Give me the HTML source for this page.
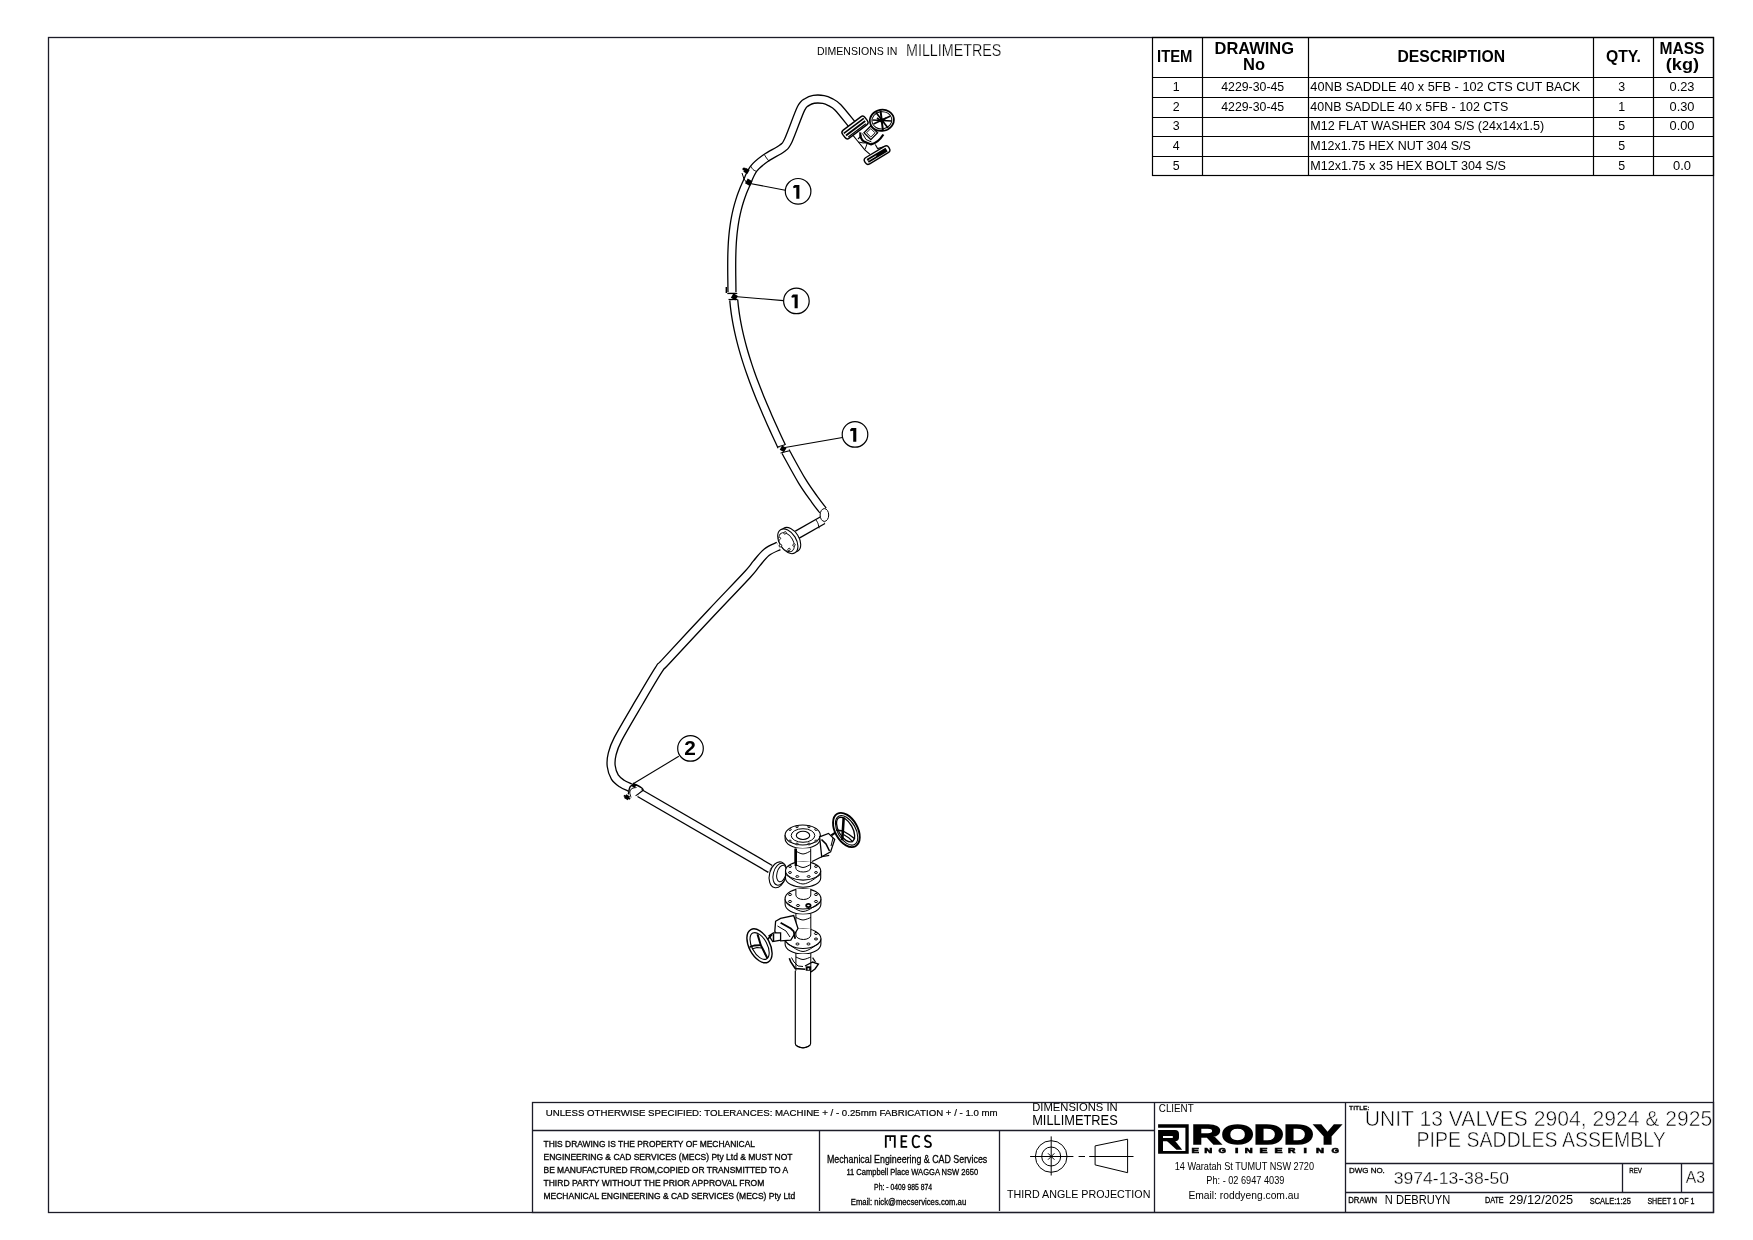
<!DOCTYPE html>
<html><head><meta charset="utf-8"><style>
html,body{margin:0;padding:0;background:#fff;width:1753px;height:1240px;overflow:hidden}
svg{display:block;will-change:transform}
text{font-family:"Liberation Sans",sans-serif;fill:#000}
.b{font-weight:bold}
</style></head><body>
<svg width="1753" height="1240" viewBox="0 0 1753 1240">
<rect x="0" y="0" width="1753" height="1240" fill="#fff"/>
<!-- outer border -->
<rect x="48.5" y="37.5" width="1665" height="1175" fill="none" stroke="#1c1c28" stroke-width="1.3"/>
<!-- top dims -->
<text x="817" y="55.2" font-size="11.6" textLength="80.3" lengthAdjust="spacingAndGlyphs">DIMENSIONS IN</text>
<text stroke="#fff" stroke-width="0.25" x="906" y="55.7" font-size="16.4" textLength="95.4" lengthAdjust="spacingAndGlyphs">MILLIMETRES</text>
<!-- BOM table -->
<g stroke="#000" stroke-width="1.2" fill="none">
<rect x="1152.5" y="37.5" width="561" height="138"/>
<line x1="1202.5" y1="37.5" x2="1202.5" y2="175.5"/>
<line x1="1308.5" y1="37.5" x2="1308.5" y2="175.5"/>
<line x1="1593.5" y1="37.5" x2="1593.5" y2="175.5"/>
<line x1="1653.5" y1="37.5" x2="1653.5" y2="175.5"/>
<line x1="1152.5" y1="77.5" x2="1713.5" y2="77.5"/>
<line x1="1152.5" y1="97.5" x2="1713.5" y2="97.5"/>
<line x1="1152.5" y1="117.5" x2="1713.5" y2="117.5"/>
<line x1="1152.5" y1="136.5" x2="1713.5" y2="136.5"/>
<line x1="1152.5" y1="156.5" x2="1713.5" y2="156.5"/>
</g>
<g class="b" font-size="16.5">
<text x="1157" y="62" textLength="35.5" lengthAdjust="spacingAndGlyphs" class="b">ITEM</text>
<text x="1214.5" y="54.2" textLength="79.5" lengthAdjust="spacingAndGlyphs" class="b">DRAWING</text>
<text x="1243" y="70.2" textLength="22" lengthAdjust="spacingAndGlyphs" class="b">No</text>
<text x="1397.5" y="62" textLength="107.5" lengthAdjust="spacingAndGlyphs" class="b">DESCRIPTION</text>
<text x="1606" y="62.2" textLength="35" lengthAdjust="spacingAndGlyphs" class="b">QTY.</text>
<text x="1659.5" y="54" textLength="45" lengthAdjust="spacingAndGlyphs" class="b">MASS</text>
<text x="1665.8" y="70" textLength="33.3" lengthAdjust="spacingAndGlyphs" class="b">(kg)</text>
</g>
<g font-size="12.4">
<text x="1176.2" y="90.8" text-anchor="middle">1</text>
<text x="1176.2" y="111.1" text-anchor="middle">2</text>
<text x="1176.2" y="130.4" text-anchor="middle">3</text>
<text x="1176.2" y="149.9" text-anchor="middle">4</text>
<text x="1176.2" y="170" text-anchor="middle">5</text>
<text x="1221.2" y="90.8" textLength="63" lengthAdjust="spacingAndGlyphs">4229-30-45</text>
<text x="1221.2" y="111.1" textLength="63" lengthAdjust="spacingAndGlyphs">4229-30-45</text>
<text x="1310.3" y="90.8" textLength="270" lengthAdjust="spacingAndGlyphs">40NB SADDLE 40 x 5FB - 102 CTS CUT BACK</text>
<text x="1310.3" y="111.1" textLength="198" lengthAdjust="spacingAndGlyphs">40NB SADDLE 40 x 5FB - 102 CTS</text>
<text x="1310.3" y="130.4" textLength="234" lengthAdjust="spacingAndGlyphs">M12 FLAT WASHER 304 S/S (24x14x1.5)</text>
<text x="1310.3" y="149.9" textLength="160.6" lengthAdjust="spacingAndGlyphs">M12x1.75 HEX NUT 304 S/S</text>
<text x="1310.3" y="170" textLength="195.6" lengthAdjust="spacingAndGlyphs">M12x1.75 x 35 HEX BOLT 304 S/S</text>
<text x="1621.6" y="90.8" text-anchor="middle">3</text>
<text x="1621.6" y="111.1" text-anchor="middle">1</text>
<text x="1621.6" y="130.4" text-anchor="middle">5</text>
<text x="1621.6" y="149.9" text-anchor="middle">5</text>
<text x="1621.6" y="170" text-anchor="middle">5</text>
<text x="1669.5" y="90.8" textLength="25" lengthAdjust="spacingAndGlyphs">0.23</text>
<text x="1669.5" y="111.1" textLength="25" lengthAdjust="spacingAndGlyphs">0.30</text>
<text x="1669.5" y="130.4" textLength="25" lengthAdjust="spacingAndGlyphs">0.00</text>
<text x="1673" y="170" textLength="18" lengthAdjust="spacingAndGlyphs">0.0</text>
</g>
<!-- TITLEBLOCK -->
<g stroke="#1c1c28" stroke-width="1.3" fill="none">
<rect x="532.5" y="1102.5" width="1181" height="110"/>
<line x1="532.5" y1="1130.5" x2="1154.5" y2="1130.5"/>
<line x1="819.5" y1="1130.5" x2="819.5" y2="1211"/>
<line x1="999.5" y1="1130.5" x2="999.5" y2="1211"/>
<line x1="1154.5" y1="1102.5" x2="1154.5" y2="1212.5"/>
<line x1="1345.5" y1="1102.5" x2="1345.5" y2="1212.5"/>
<line x1="1345.5" y1="1163.5" x2="1713.5" y2="1163.5"/>
<line x1="1345.5" y1="1192.5" x2="1713.5" y2="1192.5"/>
<line x1="1622.5" y1="1163.5" x2="1622.5" y2="1192.5"/>
<line x1="1681.5" y1="1163.5" x2="1681.5" y2="1192.5"/>
</g>
<text stroke="#000" stroke-width="0.2" x="545.7" y="1116.2" font-size="9.6" textLength="452" lengthAdjust="spacingAndGlyphs">UNLESS OTHERWISE SPECIFIED: TOLERANCES: MACHINE + / - 0.25mm  FABRICATION + / - 1.0 mm</text>
<g font-size="8.3">
<text stroke="#000" stroke-width="0.3" x="543.5" y="1147.1" textLength="211.5" lengthAdjust="spacingAndGlyphs">THIS DRAWING IS THE PROPERTY OF MECHANICAL</text>
<text stroke="#000" stroke-width="0.3" x="543.5" y="1159.9" textLength="249" lengthAdjust="spacingAndGlyphs">ENGINEERING &amp; CAD SERVICES (MECS) Pty Ltd &amp; MUST NOT</text>
<text stroke="#000" stroke-width="0.3" x="543.5" y="1172.7" textLength="244.6" lengthAdjust="spacingAndGlyphs">BE MANUFACTURED FROM,COPIED OR TRANSMITTED TO A</text>
<text stroke="#000" stroke-width="0.3" x="543.5" y="1185.6" textLength="220.8" lengthAdjust="spacingAndGlyphs">THIRD PARTY WITHOUT THE PRIOR APPROVAL FROM</text>
<text stroke="#000" stroke-width="0.3" x="543.5" y="1198.6" textLength="251.7" lengthAdjust="spacingAndGlyphs">MECHANICAL ENGINEERING &amp; CAD SERVICES (MECS) Pty Ltd</text>
</g>
<g fill="#000"><path d="M884.9 1135.3 H895.7 V1147.8 H893.9 V1137.1 H890.9 V1141 H889.5 V1137.1 H886.7 V1147.8 H884.9 Z"/>
<path d="M900.6 1135.3 H907.2 V1137.1 H902.4 V1140.6 H906.4 V1142.3 H902.4 V1146 H907.2 V1147.8 H900.6 Z"/></g>
<path d="M919.8 1137.2 Q917.5 1135.6 915.8 1135.6 Q912.6 1136.2 912.6 1141.5 Q912.6 1147 916 1147.3 Q918 1147.3 919.8 1146" fill="none" stroke="#000" stroke-width="1.8"/>
<path d="M930.8 1136.8 Q929 1135.6 927.3 1135.7 Q924.8 1136.2 925 1138.8 Q925.4 1141 928 1141.5 Q931 1142.3 931 1144.8 Q930.8 1147.2 927.8 1147.2 Q925.6 1147.2 924.6 1145.8" fill="none" stroke="#000" stroke-width="1.8"/>
<text stroke="#000" stroke-width="0.3" x="826.9" y="1162.9" font-size="10.5" textLength="160.4" lengthAdjust="spacingAndGlyphs">Mechanical Engineering &amp; CAD Services</text>
<text stroke="#000" stroke-width="0.3" x="846.4" y="1175.1" font-size="8.6" textLength="131.7" lengthAdjust="spacingAndGlyphs">11 Campbell Place WAGGA NSW 2650</text>
<text stroke="#000" stroke-width="0.3" x="874.1" y="1190" font-size="8.6" textLength="58" lengthAdjust="spacingAndGlyphs">Ph: - 0409 985 874</text>
<text stroke="#000" stroke-width="0.3" x="850.8" y="1205.2" font-size="8.6" textLength="115.4" lengthAdjust="spacingAndGlyphs">Email: nick@mecservices.com.au</text>
<text x="1032.2" y="1111.1" font-size="11.6" textLength="85.5" lengthAdjust="spacingAndGlyphs">DIMENSIONS IN</text>
<text x="1032.2" y="1124.8" font-size="14.5" textLength="85.5" lengthAdjust="spacingAndGlyphs">MILLIMETRES</text>
<!-- projection symbol -->
<g stroke="#000" stroke-width="1" fill="none">
<circle cx="1051.2" cy="1156.5" r="15.8"/>
<circle cx="1051.2" cy="1156.5" r="9.5"/>
<line x1="1030.1" y1="1156.5" x2="1073.4" y2="1156.5"/>
<line x1="1051.2" y1="1136.4" x2="1051.2" y2="1175.5"/>
<line x1="1078.6" y1="1156.5" x2="1085" y2="1156.5"/>
<line x1="1089.2" y1="1156.5" x2="1133.5" y2="1156.5"/>
<path d="M1095.1 1145.9 L1127.6 1139.2 L1127.6 1172.7 L1095.1 1164.9 Z"/>
<line x1="1048" y1="1153.3" x2="1054.4" y2="1159.7"/>
<line x1="1048" y1="1159.7" x2="1054.4" y2="1153.3"/>
</g>
<text x="1006.9" y="1198" font-size="11.2" textLength="143.5" lengthAdjust="spacingAndGlyphs">THIRD ANGLE PROJECTION</text>
<text x="1158.8" y="1111.7" font-size="10.6" textLength="34.9" lengthAdjust="spacingAndGlyphs">CLIENT</text>
<!-- RODDY logo -->
<path d="M1158.1 1124.3 H1188.7 V1127.7 H1158.1 Z M1185.4 1124.3 H1188.7 V1153.7 H1185.4 Z M1158.1 1151 H1188.7 V1153.7 H1158.1 Z M1158.1 1130.1 H1163 V1153.7 H1158.1 Z" fill="#000"/>
<path d="M1163 1130.1 H1175 Q1179 1130.1 1179 1134 V1137.5 Q1179 1141.2 1175 1141.2 H1163 Z M1163 1136 V1138.1 H1172.8 V1136 Z" fill="#000" fill-rule="evenodd"/>
<path d="M1164.2 1138.4 L1175 1140.8 L1182.2 1149.8 L1176.5 1149.8 Z" fill="#000"/>
<text x="1191.6" y="1143.8" font-size="27.6" font-weight="bold" textLength="149.8" lengthAdjust="spacingAndGlyphs" stroke="#000" stroke-width="1.4">RODDY</text>
<text x="1191.6" y="1153.4" font-size="7.4" font-weight="bold" textLength="7.5" lengthAdjust="spacingAndGlyphs" stroke="#000" stroke-width="0.6">E</text><text x="1204.2" y="1153.4" font-size="7.4" font-weight="bold" textLength="8.0" lengthAdjust="spacingAndGlyphs" stroke="#000" stroke-width="0.6">N</text><text x="1218.5" y="1153.4" font-size="7.4" font-weight="bold" textLength="7.4" lengthAdjust="spacingAndGlyphs" stroke="#000" stroke-width="0.6">G</text><text x="1235.0" y="1153.4" font-size="7.4" font-weight="bold" textLength="3.4" lengthAdjust="spacingAndGlyphs" stroke="#000" stroke-width="0.6">I</text><text x="1244.7" y="1153.4" font-size="7.4" font-weight="bold" textLength="8.0" lengthAdjust="spacingAndGlyphs" stroke="#000" stroke-width="0.6">N</text><text x="1259.5" y="1153.4" font-size="7.4" font-weight="bold" textLength="8.0" lengthAdjust="spacingAndGlyphs" stroke="#000" stroke-width="0.6">E</text><text x="1274.4" y="1153.4" font-size="7.4" font-weight="bold" textLength="8.0" lengthAdjust="spacingAndGlyphs" stroke="#000" stroke-width="0.6">E</text><text x="1288.0" y="1153.4" font-size="7.4" font-weight="bold" textLength="7.4" lengthAdjust="spacingAndGlyphs" stroke="#000" stroke-width="0.6">R</text><text x="1303.5" y="1153.4" font-size="7.4" font-weight="bold" textLength="3.4" lengthAdjust="spacingAndGlyphs" stroke="#000" stroke-width="0.6">I</text><text x="1316.0" y="1153.4" font-size="7.4" font-weight="bold" textLength="8.0" lengthAdjust="spacingAndGlyphs" stroke="#000" stroke-width="0.6">N</text><text x="1331.4" y="1153.4" font-size="7.4" font-weight="bold" textLength="7.4" lengthAdjust="spacingAndGlyphs" stroke="#000" stroke-width="0.6">G</text>
<text x="1174.7" y="1170.2" font-size="10.4" textLength="139.3" lengthAdjust="spacingAndGlyphs">14 Waratah St TUMUT NSW 2720</text>
<text x="1206.3" y="1183.9" font-size="10.4" textLength="78.1" lengthAdjust="spacingAndGlyphs">Ph: - 02 6947 4039</text>
<text x="1188.4" y="1198.7" font-size="10.4" textLength="110.8" lengthAdjust="spacingAndGlyphs">Email: roddyeng.com.au</text>
<!-- title -->
<text stroke="#000" stroke-width="0.3" x="1349" y="1110.2" font-size="5.8" textLength="20.4" lengthAdjust="spacingAndGlyphs">TITLE:</text>
<text stroke="#fff" stroke-width="0.55" x="1364.7" y="1125.8" font-size="21.2" textLength="347.5" lengthAdjust="spacingAndGlyphs">UNIT 13 VALVES 2904, 2924 &amp; 2925</text>
<text stroke="#fff" stroke-width="0.55" x="1416.6" y="1147" font-size="21.2" textLength="249.2" lengthAdjust="spacingAndGlyphs">PIPE SADDLES ASSEMBLY</text>
<text stroke="#000" stroke-width="0.3" x="1349" y="1172.9" font-size="7.6" textLength="35.8" lengthAdjust="spacingAndGlyphs">DWG NO.</text>
<text stroke="#fff" stroke-width="0.3" x="1393.7" y="1183.5" font-size="16.7" textLength="115.4" lengthAdjust="spacingAndGlyphs">3974-13-38-50</text>
<text stroke="#000" stroke-width="0.3" x="1629.3" y="1172.9" font-size="7.6" textLength="12.7" lengthAdjust="spacingAndGlyphs">REV</text>
<text stroke="#fff" stroke-width="0.3" x="1685.8" y="1183" font-size="16.7" textLength="19.3" lengthAdjust="spacingAndGlyphs">A3</text>
<text stroke="#000" stroke-width="0.3" x="1348.2" y="1203.1" font-size="8.6" textLength="29" lengthAdjust="spacingAndGlyphs">DRAWN</text>
<text x="1384.8" y="1203.5" font-size="12.6" textLength="65.4" lengthAdjust="spacingAndGlyphs">N DEBRUYN</text>
<text stroke="#000" stroke-width="0.3" x="1484.9" y="1203.1" font-size="8.6" textLength="18.8" lengthAdjust="spacingAndGlyphs">DATE</text>
<text x="1509.1" y="1203.5" font-size="12.6" textLength="64.1" lengthAdjust="spacingAndGlyphs">29/12/2025</text>
<text stroke="#000" stroke-width="0.3" x="1589.7" y="1204.3" font-size="9.3" textLength="41.2" lengthAdjust="spacingAndGlyphs">SCALE:1:25</text>
<text stroke="#000" stroke-width="0.3" x="1647.4" y="1204.3" font-size="9.3" textLength="47.1" lengthAdjust="spacingAndGlyphs">SHEET 1 OF 1</text>
<!-- PIPE -->
<path d="M852.00 124.50 C849.67 121.67 841.62 111.23 838.00 107.50 C834.38 103.77 832.72 103.43 830.30 102.10 C827.88 100.77 826.27 99.97 823.50 99.50 C820.73 99.03 816.42 98.90 813.70 99.30 C810.98 99.70 809.32 100.35 807.20 101.90 C805.08 103.45 804.13 102.22 801.00 108.60 C797.87 114.98 791.57 133.57 788.40 140.20 C785.23 146.83 785.75 145.43 782.00 148.40 C778.25 151.37 770.63 154.60 765.90 158.00 C761.17 161.40 756.93 164.38 753.60 168.80 C750.27 173.22 747.79 180.50 745.93 184.50 C744.08 188.50 743.51 190.03 742.45 192.79 C741.39 195.56 740.44 198.32 739.58 201.08 C738.71 203.85 737.95 206.61 737.25 209.38 C736.56 212.14 735.96 214.91 735.43 217.67 C734.89 220.43 734.44 223.20 734.04 225.96 C733.64 228.73 733.31 231.49 733.03 234.25 C732.75 237.02 732.54 239.78 732.35 242.55 C732.17 245.31 732.05 248.07 731.95 250.84 C731.84 253.60 731.79 256.37 731.75 259.13 C731.71 261.89 731.71 264.66 731.71 267.42 C731.71 270.19 731.74 272.95 731.77 275.72 C731.80 278.48 731.84 281.24 731.88 284.01 C731.91 286.77 731.96 290.92 731.97 292.30" stroke="#000" stroke-width="9.30" fill="none"/>
<path d="M852.00 124.50 C849.67 121.67 841.62 111.23 838.00 107.50 C834.38 103.77 832.72 103.43 830.30 102.10 C827.88 100.77 826.27 99.97 823.50 99.50 C820.73 99.03 816.42 98.90 813.70 99.30 C810.98 99.70 809.32 100.35 807.20 101.90 C805.08 103.45 804.13 102.22 801.00 108.60 C797.87 114.98 791.57 133.57 788.40 140.20 C785.23 146.83 785.75 145.43 782.00 148.40 C778.25 151.37 770.63 154.60 765.90 158.00 C761.17 161.40 756.93 164.38 753.60 168.80 C750.27 173.22 747.79 180.50 745.93 184.50 C744.08 188.50 743.51 190.03 742.45 192.79 C741.39 195.56 740.44 198.32 739.58 201.08 C738.71 203.85 737.95 206.61 737.25 209.38 C736.56 212.14 735.96 214.91 735.43 217.67 C734.89 220.43 734.44 223.20 734.04 225.96 C733.64 228.73 733.31 231.49 733.03 234.25 C732.75 237.02 732.54 239.78 732.35 242.55 C732.17 245.31 732.05 248.07 731.95 250.84 C731.84 253.60 731.79 256.37 731.75 259.13 C731.71 261.89 731.71 264.66 731.71 267.42 C731.71 270.19 731.74 272.95 731.77 275.72 C731.80 278.48 731.84 281.24 731.88 284.01 C731.91 286.77 731.96 290.92 731.97 292.30" stroke="#fff" stroke-width="6.70" fill="none"/>
<path d="M733.73 300.00 C733.88 301.36 734.25 305.43 734.59 308.14 C734.92 310.85 735.30 313.56 735.73 316.28 C736.16 318.99 736.64 321.70 737.16 324.42 C737.68 327.13 738.24 329.84 738.85 332.56 C739.45 335.27 740.10 337.98 740.79 340.69 C741.47 343.41 742.20 346.12 742.96 348.83 C743.72 351.55 744.52 354.26 745.35 356.97 C746.18 359.69 747.05 362.40 747.95 365.11 C748.84 367.82 749.77 370.54 750.73 373.25 C751.68 375.96 752.67 378.68 753.68 381.39 C754.70 384.10 755.74 386.81 756.80 389.53 C757.86 392.24 758.95 394.95 760.05 397.67 C761.16 400.38 762.29 403.09 763.44 405.81 C764.58 408.52 765.75 411.23 766.93 413.94 C768.11 416.66 769.31 419.37 770.52 422.08 C771.73 424.80 772.96 427.51 774.20 430.22 C775.43 432.94 776.68 435.65 777.94 438.36 C779.19 441.07 781.09 445.14 781.73 446.50" stroke="#000" stroke-width="9.30" fill="none"/>
<path d="M733.73 300.00 C733.88 301.36 734.25 305.43 734.59 308.14 C734.92 310.85 735.30 313.56 735.73 316.28 C736.16 318.99 736.64 321.70 737.16 324.42 C737.68 327.13 738.24 329.84 738.85 332.56 C739.45 335.27 740.10 337.98 740.79 340.69 C741.47 343.41 742.20 346.12 742.96 348.83 C743.72 351.55 744.52 354.26 745.35 356.97 C746.18 359.69 747.05 362.40 747.95 365.11 C748.84 367.82 749.77 370.54 750.73 373.25 C751.68 375.96 752.67 378.68 753.68 381.39 C754.70 384.10 755.74 386.81 756.80 389.53 C757.86 392.24 758.95 394.95 760.05 397.67 C761.16 400.38 762.29 403.09 763.44 405.81 C764.58 408.52 765.75 411.23 766.93 413.94 C768.11 416.66 769.31 419.37 770.52 422.08 C771.73 424.80 772.96 427.51 774.20 430.22 C775.43 432.94 776.68 435.65 777.94 438.36 C779.19 441.07 781.09 445.14 781.73 446.50" stroke="#fff" stroke-width="6.70" fill="none"/>
<path d="M785.50 451.50 C788.25 456.42 797.08 472.92 802.00 481.00 C806.92 489.08 811.50 495.08 815.00 500.00 C818.50 504.92 821.67 508.75 823.00 510.50" stroke="#000" stroke-width="9.30" fill="none"/>
<path d="M785.50 451.50 C788.25 456.42 797.08 472.92 802.00 481.00 C806.92 489.08 811.50 495.08 815.00 500.00 C818.50 504.92 821.67 508.75 823.00 510.50" stroke="#fff" stroke-width="6.70" fill="none"/>
<path d="M764.40 154.70 C764.75 155.25 765.73 156.92 766.50 158.00 C767.27 159.08 768.58 160.67 769.00 161.20" stroke="#000" stroke-width="1.00" fill="none"/>
<path d="M750.90 166.30 C751.25 166.83 752.10 168.65 753.00 169.50 C753.90 170.35 755.75 171.08 756.30 171.40" stroke="#000" stroke-width="1.00" fill="none"/>
<rect x="746.00" y="179.60" width="5.40" height="5.40" fill="#000" transform="rotate(30 748.70 182.30)"/>
<rect x="744.20" y="168.50" width="4.60" height="4.60" fill="#000" transform="rotate(30 746.50 170.80)"/>
<circle cx="744" cy="169" r="1.6" fill="#000"/>
<path d="M742.00 173.00 L744.00 179.00 L747.00 183.00 L751.00 185.00" stroke="#000" stroke-width="1.00" fill="none"/>
<line x1="727.30" y1="293.50" x2="737.30" y2="293.50" stroke="#000" stroke-width="1.20"/>
<line x1="728.50" y1="299.50" x2="737.50" y2="299.50" stroke="#000" stroke-width="1.20"/>
<rect x="731.80" y="294.30" width="5.20" height="5.20" fill="#000" transform="rotate(30 734.40 296.90)"/>
<path d="M726.30 287.00 L726.30 293.00" stroke="#000" stroke-width="1.40" fill="none"/>
<rect x="780.60" y="446.30" width="5.00" height="5.00" fill="#000" transform="rotate(30 783.10 448.80)"/>
<line x1="777.50" y1="447.00" x2="785.50" y2="444.50" stroke="#000" stroke-width="1.00"/>
<line x1="780.50" y1="453.00" x2="789.50" y2="450.80" stroke="#000" stroke-width="1.00"/>
<path d="M823.00 520.00 L797.30 534.60" stroke="#000" stroke-width="9.30" fill="none"/>
<path d="M823.00 520.00 L797.30 534.60" stroke="#fff" stroke-width="6.70" fill="none"/>
<ellipse cx="824.40" cy="515.00" rx="4.30" ry="6.40" transform="rotate(0.0 824.40 515.00)" stroke="#000" stroke-width="1.00" fill="#fff"/>
<path d="M815.80 519.50 C816.17 520.17 817.45 522.03 818.00 523.50 C818.55 524.97 818.92 527.50 819.10 528.30" stroke="#000" stroke-width="1.00" fill="none"/>
<ellipse cx="790.80" cy="539.60" rx="13.40" ry="8.20" transform="rotate(58.0 790.80 539.60)" stroke="#000" stroke-width="1.10" fill="#fff"/>
<ellipse cx="787.80" cy="541.30" rx="13.60" ry="8.40" transform="rotate(58.0 787.80 541.30)" stroke="#000" stroke-width="1.10" fill="#fff"/>
<ellipse cx="786.50" cy="542.20" rx="10.50" ry="6.60" transform="rotate(58.0 786.50 542.20)" stroke="#000" stroke-width="0.90" fill="#fff"/>
<ellipse cx="779.40" cy="538.60" rx="1.10" ry="1.40" transform="rotate(40.0 779.40 538.60)" stroke="#000" stroke-width="0.80" fill="#fff"/>
<ellipse cx="785.00" cy="532.90" rx="1.10" ry="1.40" transform="rotate(40.0 785.00 532.90)" stroke="#000" stroke-width="0.80" fill="#fff"/>
<ellipse cx="794.00" cy="545.00" rx="1.10" ry="1.40" transform="rotate(40.0 794.00 545.00)" stroke="#000" stroke-width="0.80" fill="#fff"/>
<ellipse cx="789.00" cy="549.50" rx="1.10" ry="1.40" transform="rotate(40.0 789.00 549.50)" stroke="#000" stroke-width="0.80" fill="#fff"/>
<ellipse cx="780.50" cy="545.60" rx="1.10" ry="1.40" transform="rotate(40.0 780.50 545.60)" stroke="#000" stroke-width="0.80" fill="#fff"/>
<path d="M778.60 546.00 C776.58 547.05 770.18 549.38 766.50 552.30 C762.82 555.22 759.67 559.80 756.50 563.50 C753.33 567.20 755.00 566.33 747.50 574.50 C740.00 582.67 725.08 598.03 711.50 612.50 C697.92 626.97 674.83 651.72 666.00 661.30 C657.17 670.88 662.97 663.18 658.50 670.00 C654.03 676.82 645.95 690.70 639.20 702.20 C632.45 713.70 622.52 730.30 618.00 739.00 C613.48 747.70 613.23 749.90 612.10 754.40 C610.97 758.90 610.75 762.23 611.20 766.00 C611.65 769.77 613.03 774.08 614.80 777.00 C616.57 779.92 619.27 781.75 621.80 783.50 C624.33 785.25 628.63 786.83 630.00 787.50" stroke="#000" stroke-width="9.30" fill="none"/>
<path d="M778.60 546.00 C776.58 547.05 770.18 549.38 766.50 552.30 C762.82 555.22 759.67 559.80 756.50 563.50 C753.33 567.20 755.00 566.33 747.50 574.50 C740.00 582.67 725.08 598.03 711.50 612.50 C697.92 626.97 674.83 651.72 666.00 661.30 C657.17 670.88 662.97 663.18 658.50 670.00 C654.03 676.82 645.95 690.70 639.20 702.20 C632.45 713.70 622.52 730.30 618.00 739.00 C613.48 747.70 613.23 749.90 612.10 754.40 C610.97 758.90 610.75 762.23 611.20 766.00 C611.65 769.77 613.03 774.08 614.80 777.00 C616.57 779.92 619.27 781.75 621.80 783.50 C624.33 785.25 628.63 786.83 630.00 787.50" stroke="#fff" stroke-width="6.70" fill="none"/>
<path d="M639.50 793.00 L770.30 868.90" stroke="#000" stroke-width="9.30" fill="none"/>
<path d="M639.50 793.00 L770.30 868.90" stroke="#fff" stroke-width="6.70" fill="none"/>
<line x1="643.30" y1="790.30" x2="635.60" y2="795.90" stroke="#000" stroke-width="1.10"/>
<path d="M628.30 794.40 C628.62 793.12 629.02 788.32 630.20 786.70 C631.38 785.08 633.47 784.48 635.40 784.70 C637.33 784.92 640.48 787.03 641.80 788.00 C643.12 788.97 643.05 790.08 643.30 790.50" stroke="#000" stroke-width="1.40" fill="none"/>
<path d="M631.00 797.50 C630.80 796.58 629.63 793.50 629.80 792.00 C629.97 790.50 630.88 789.25 632.00 788.50 C633.12 787.75 635.75 787.67 636.50 787.50" stroke="#000" stroke-width="1.00" fill="none"/>
<rect x="632.00" y="783.30" width="4.00" height="4.00" fill="#000" transform="rotate(30 634.00 785.30)"/>
<rect x="624.80" y="795.10" width="4.40" height="4.40" fill="#000" transform="rotate(30 627.00 797.30)"/>
<path d="M623.80 795.50 L630.20 799.00" stroke="#000" stroke-width="1.50" fill="none"/>
<ellipse cx="777.80" cy="874.80" rx="8.30" ry="13.20" transform="rotate(15.0 777.80 874.80)" stroke="#000" stroke-width="1.10" fill="#fff"/>
<ellipse cx="779.80" cy="874.20" rx="6.50" ry="11.20" transform="rotate(15.0 779.80 874.20)" stroke="#000" stroke-width="1.00" fill="#fff"/>
<ellipse cx="781.50" cy="873.50" rx="4.50" ry="8.50" transform="rotate(15.0 781.50 873.50)" stroke="#000" stroke-width="1.00" fill="#fff"/>
<path d="M785.1 835 L785.1 838.5 A17.6 10 0 0 0 820.3 838.5 L820.3 835" stroke="#000" stroke-width="1.1" fill="#fff"/>
<ellipse cx="802.70" cy="835.00" rx="17.60" ry="10.00" transform="rotate(0.0 802.70 835.00)" stroke="#000" stroke-width="1.10" fill="#fff"/>
<ellipse cx="803.00" cy="835.50" rx="11.80" ry="6.80" transform="rotate(0.0 803.00 835.50)" stroke="#000" stroke-width="1.00" fill="#fff"/>
<ellipse cx="803.00" cy="835.40" rx="6.70" ry="4.10" transform="rotate(0.0 803.00 835.40)" stroke="#000" stroke-width="1.10" fill="#fff"/>
<ellipse cx="790.00" cy="829.50" rx="1.30" ry="0.90" transform="rotate(0.0 790.00 829.50)" stroke="#000" stroke-width="0.90" fill="#fff"/>
<ellipse cx="797.00" cy="826.80" rx="1.30" ry="0.90" transform="rotate(0.0 797.00 826.80)" stroke="#000" stroke-width="0.90" fill="#fff"/>
<ellipse cx="809.00" cy="826.80" rx="1.30" ry="0.90" transform="rotate(0.0 809.00 826.80)" stroke="#000" stroke-width="0.90" fill="#fff"/>
<ellipse cx="816.00" cy="829.50" rx="1.30" ry="0.90" transform="rotate(0.0 816.00 829.50)" stroke="#000" stroke-width="0.90" fill="#fff"/>
<ellipse cx="790.00" cy="841.00" rx="1.30" ry="0.90" transform="rotate(0.0 790.00 841.00)" stroke="#000" stroke-width="0.90" fill="#fff"/>
<ellipse cx="797.00" cy="844.00" rx="1.30" ry="0.90" transform="rotate(0.0 797.00 844.00)" stroke="#000" stroke-width="0.90" fill="#fff"/>
<ellipse cx="809.00" cy="844.00" rx="1.30" ry="0.90" transform="rotate(0.0 809.00 844.00)" stroke="#000" stroke-width="0.90" fill="#fff"/>
<ellipse cx="816.00" cy="841.00" rx="1.30" ry="0.90" transform="rotate(0.0 816.00 841.00)" stroke="#000" stroke-width="0.90" fill="#fff"/>
<rect x="795.6" y="848.4" width="15.1" height="15" fill="#fff" stroke="none"/>
<line x1="795.60" y1="848.40" x2="795.60" y2="862.80" stroke="#000" stroke-width="2.20"/>
<line x1="810.70" y1="848.40" x2="810.70" y2="862.80" stroke="#000" stroke-width="1.00"/>
<path d="M795.60 851.00 C796.83 851.50 800.48 854.00 803.00 854.00 C805.52 854.00 809.42 851.50 810.70 851.00" stroke="#000" stroke-width="1.00" fill="none"/>
<path d="M785.5 870.8 L785.5 878 A17.6 9.3 0 0 0 820.7 878 L820.7 870.8" stroke="#000" stroke-width="1.1" fill="#fff"/>
<ellipse cx="803.10" cy="870.80" rx="17.60" ry="9.30" transform="rotate(0.0 803.10 870.80)" stroke="#000" stroke-width="1.10" fill="#fff"/>
<path d="M795.8 861.5 L795.8 868 A7.4 4 0 0 0 810.6 868 L810.6 861.5" stroke="#000" stroke-width="1.0" fill="#fff"/>
<path d="M795.80 864.50 C797.00 865.00 800.53 867.50 803.00 867.50 C805.47 867.50 809.33 865.00 810.60 864.50" stroke="#000" stroke-width="1.00" fill="none"/>
<line x1="795.80" y1="849.00" x2="795.80" y2="866.00" stroke="#000" stroke-width="2.40"/>
<ellipse cx="790.00" cy="866.50" rx="1.50" ry="0.90" transform="rotate(0.0 790.00 866.50)" stroke="#000" stroke-width="1.00" fill="#fff"/>
<ellipse cx="816.00" cy="866.50" rx="1.50" ry="0.90" transform="rotate(0.0 816.00 866.50)" stroke="#000" stroke-width="1.00" fill="#fff"/>
<ellipse cx="790.00" cy="872.50" rx="1.50" ry="0.90" transform="rotate(0.0 790.00 872.50)" stroke="#000" stroke-width="1.00" fill="#fff"/>
<ellipse cx="816.00" cy="872.50" rx="1.50" ry="0.90" transform="rotate(0.0 816.00 872.50)" stroke="#000" stroke-width="1.00" fill="#fff"/>
<ellipse cx="797.30" cy="876.50" rx="1.50" ry="0.90" transform="rotate(0.0 797.30 876.50)" stroke="#000" stroke-width="1.00" fill="#fff"/>
<ellipse cx="808.70" cy="876.50" rx="1.50" ry="0.90" transform="rotate(0.0 808.70 876.50)" stroke="#000" stroke-width="1.00" fill="#fff"/>
<path d="M785.50 874.50 C788.42 876.08 797.13 884.00 803.00 884.00 C808.87 884.00 817.75 876.08 820.70 874.50" stroke="#000" stroke-width="1.00" fill="none"/>
<path d="M819.6 836.8 L828.5 833.4 L834.7 839.5 L830.6 851.9 L821.7 856.7 Z" stroke="#000" stroke-width="1.3" fill="#fff"/>
<path d="M821.50 839.50 L826.00 844.00 L829.50 851.00" stroke="#000" stroke-width="1.60" fill="none"/>
<path d="M812.10 861.50 L821.70 856.70 L829.20 855.30" stroke="#000" stroke-width="1.20" fill="none"/>
<path d="M829.50 834.50 L833.00 838.00 L831.00 846.00" stroke="#000" stroke-width="1.00" fill="none"/>
<line x1="831.30" y1="835.40" x2="836.80" y2="831.60" stroke="#000" stroke-width="2.00"/>
<ellipse cx="846.40" cy="830.00" rx="18.60" ry="11.20" transform="rotate(60.6 846.40 830.00)" stroke="#000" stroke-width="1.90" fill="#fff"/>
<ellipse cx="846.60" cy="830.30" rx="16.20" ry="9.00" transform="rotate(60.6 846.60 830.30)" stroke="#000" stroke-width="1.10" fill="#fff"/>
<ellipse cx="845.60" cy="829.60" rx="13.60" ry="7.00" transform="rotate(60.6 845.60 829.60)" stroke="#000" stroke-width="1.30" fill="#fff"/>
<line x1="843.70" y1="817.50" x2="842.30" y2="840.00" stroke="#000" stroke-width="2.60"/>
<path d="M843.00 831.00 L849.00 834.50 L855.00 839.00" stroke="#000" stroke-width="1.40" fill="none"/>
<path d="M843.50 834.50 L849.00 838.00 L853.00 842.00" stroke="#000" stroke-width="1.10" fill="none"/>
<path d="M836.00 830.00 L843.00 831.00" stroke="#000" stroke-width="1.50" fill="none"/>
<path d="M785.1 898.8 L785.1 904 A17.9 10.2 0 0 0 820.9 904 L820.9 898.8" stroke="#000" stroke-width="1.1" fill="#fff"/>
<ellipse cx="803.00" cy="898.80" rx="17.90" ry="10.20" transform="rotate(0.0 803.00 898.80)" stroke="#000" stroke-width="1.10" fill="#fff"/>
<path d="M795.9 888.8 L795.9 895 A7.45 4.5 0 0 0 810.8 895 L810.8 888.8" stroke="#000" stroke-width="1.0" fill="#fff"/>
<ellipse cx="790.00" cy="894.50" rx="1.60" ry="1.00" transform="rotate(0.0 790.00 894.50)" stroke="#000" stroke-width="1.00" fill="#fff"/>
<ellipse cx="816.00" cy="894.50" rx="1.60" ry="1.00" transform="rotate(0.0 816.00 894.50)" stroke="#000" stroke-width="1.00" fill="#fff"/>
<ellipse cx="790.00" cy="901.50" rx="1.60" ry="1.00" transform="rotate(0.0 790.00 901.50)" stroke="#000" stroke-width="1.00" fill="#fff"/>
<ellipse cx="816.00" cy="901.50" rx="1.60" ry="1.00" transform="rotate(0.0 816.00 901.50)" stroke="#000" stroke-width="1.00" fill="#fff"/>
<ellipse cx="798.00" cy="905.50" rx="1.60" ry="1.00" transform="rotate(0.0 798.00 905.50)" stroke="#000" stroke-width="1.00" fill="#fff"/>
<ellipse cx="808.40" cy="905.50" rx="2.20" ry="1.60" transform="rotate(0.0 808.40 905.50)" stroke="#000" stroke-width="1.80" fill="#fff"/>
<path d="M785.10 901.50 C788.08 903.17 797.03 911.50 803.00 911.50 C808.97 911.50 817.92 903.17 820.90 901.50" stroke="#000" stroke-width="1.00" fill="none"/>
<rect x="795.9" y="914.5" width="14.9" height="14" fill="#fff"/>
<line x1="795.90" y1="913.50" x2="795.90" y2="929.00" stroke="#000" stroke-width="1.00"/>
<line x1="810.80" y1="913.50" x2="810.80" y2="929.00" stroke="#000" stroke-width="1.00"/>
<path d="M795.90 917.50 C797.08 917.92 800.52 920.00 803.00 920.00 C805.48 920.00 809.50 917.92 810.80 917.50" stroke="#000" stroke-width="1.00" fill="none"/>
<path d="M785.1 938.5 L785.1 944 A17.9 10 0 0 0 820.9 944 L820.9 938.5" stroke="#000" stroke-width="1.1" fill="#fff"/>
<ellipse cx="803.00" cy="938.50" rx="17.90" ry="10.00" transform="rotate(0.0 803.00 938.50)" stroke="#000" stroke-width="1.10" fill="#fff"/>
<path d="M795.9 928.5 L795.9 935 A7.45 4.5 0 0 0 810.8 935 L810.8 928.5" stroke="#000" stroke-width="1.0" fill="#fff"/>
<ellipse cx="816.00" cy="933.50" rx="1.60" ry="1.00" transform="rotate(0.0 816.00 933.50)" stroke="#000" stroke-width="1.00" fill="#fff"/>
<ellipse cx="816.00" cy="939.00" rx="1.60" ry="1.00" transform="rotate(0.0 816.00 939.00)" stroke="#000" stroke-width="1.00" fill="#fff"/>
<ellipse cx="797.50" cy="944.00" rx="1.60" ry="1.00" transform="rotate(0.0 797.50 944.00)" stroke="#000" stroke-width="1.00" fill="#fff"/>
<ellipse cx="808.50" cy="944.00" rx="1.60" ry="1.00" transform="rotate(0.0 808.50 944.00)" stroke="#000" stroke-width="1.00" fill="#fff"/>
<path d="M785.10 941.50 C788.08 943.17 797.03 951.50 803.00 951.50 C808.97 951.50 817.92 943.17 820.90 941.50" stroke="#000" stroke-width="1.00" fill="none"/>
<path d="M775.6 921.3 L780.6 918.4 L793.7 915.5 L798 928.5 L790.8 940.2 L780.6 940.9 L774.8 931.4 Z" stroke="#000" stroke-width="1.3" fill="#fff"/>
<path d="M780.60 922.70 L790.80 928.50 L793.70 931.40 L795.20 938.70" stroke="#000" stroke-width="1.80" fill="none"/>
<path d="M777.50 926.00 L786.00 931.00 L790.00 937.00" stroke="#000" stroke-width="1.00" fill="none"/>
<path d="M769 935.8 L773.4 932.9 L780.6 932.9 L780.6 940.2 L772.7 941.6 Z" stroke="#000" stroke-width="1.3" fill="#fff"/>
<line x1="773.50" y1="933.50" x2="773.50" y2="941.00" stroke="#000" stroke-width="1.50"/>
<line x1="767.50" y1="939.50" x2="772.00" y2="934.50" stroke="#000" stroke-width="1.80"/>
<ellipse cx="759.50" cy="945.80" rx="18.40" ry="10.40" transform="rotate(62.0 759.50 945.80)" stroke="#000" stroke-width="1.40" fill="#fff"/>
<ellipse cx="759.60" cy="946.00" rx="14.60" ry="7.60" transform="rotate(62.0 759.60 946.00)" stroke="#000" stroke-width="1.10" fill="#fff"/>
<path d="M757.50 934.20 L760.80 945.20 L767.50 958.50" stroke="#000" stroke-width="2.00" fill="none"/>
<path d="M749.80 947.00 L754.50 945.50 L760.80 945.20" stroke="#000" stroke-width="1.80" fill="none"/>
<path d="M751.90 949.10 L757.00 947.50 L761.50 948.00" stroke="#000" stroke-width="1.10" fill="none"/>
<path d="M763.00 949.00 L766.00 956.00" stroke="#000" stroke-width="1.10" fill="none"/>
<rect x="795.9" y="954" width="14.9" height="17" fill="#fff"/>
<line x1="795.90" y1="953.00" x2="795.90" y2="971.00" stroke="#000" stroke-width="1.00"/>
<line x1="810.80" y1="953.00" x2="810.80" y2="971.00" stroke="#000" stroke-width="1.00"/>
<path d="M795.90 957.00 C797.08 957.42 800.52 959.50 803.00 959.50 C805.48 959.50 809.50 957.42 810.80 957.00" stroke="#000" stroke-width="1.00" fill="none"/>
<path d="M789.30 958.30 L790.80 961.90 L795.20 968.50 L805.30 969.20" stroke="#000" stroke-width="1.60" fill="none"/>
<path d="M791.50 957.50 L794.00 962.00 L798.00 966.00 L803.00 966.50" stroke="#000" stroke-width="1.00" fill="none"/>
<path d="M805.00 966.00 L812.60 962.00 L818.40 964.10 L815.00 969.00 L811.00 972.00" stroke="#000" stroke-width="1.40" fill="none"/>
<path d="M812.60 957.60 L815.50 962.00" stroke="#000" stroke-width="1.20" fill="none"/>
<rect x="805.7" y="966.3" width="5.4" height="5.8" fill="#000"/>
<rect x="807.6" y="968.2" width="1.6" height="1.6" fill="#fff"/>
<path d="M795.3 970.7 L795.3 1043.5 A7.65 4.2 0 0 0 810.6 1043.5 L810.6 970.7" stroke="#000" stroke-width="1.15" fill="#fff"/>
<path d="M796.50 1045.50 C797.58 1045.92 800.83 1048.00 803.00 1048.00 C805.17 1048.00 808.42 1045.92 809.50 1045.50" stroke="#000" stroke-width="1.00" fill="none"/>
<path d="M853.20 135.60 L858.40 142.00 L864.80 149.80 L870.00 154.40" stroke="#000" stroke-width="1.10" fill="none"/>
<path d="M858.40 142.00 L863.50 143.00 L867.50 142.50 L865.00 149.50" stroke="#000" stroke-width="1.00" fill="none"/>
<path d="M875.30 144.40 L877.60 148.50 L885.60 146.30" stroke="#000" stroke-width="1.10" fill="none"/>
<path d="M858.00 139.00 L861.50 135.50" stroke="#000" stroke-width="1.10" fill="none"/>
<g transform="rotate(-37 855 127.5)"><rect x="841" y="122.5" width="28" height="10" rx="3" stroke="#000" stroke-width="1.4" fill="#fff"/><line x1="842.5" y1="125.5" x2="867.5" y2="125.5" stroke="#000" stroke-width="1.6"/><line x1="843" y1="128.5" x2="867" y2="128.5" stroke="#000" stroke-width="1.9"/><line x1="844" y1="131" x2="866" y2="131" stroke="#000" stroke-width="1.2"/></g>
<path d="M860.3 132.4 Q859.8 139 864 141.5 L871 144.4 Q878 143 883.4 134.5" stroke="#000" stroke-width="2.2" fill="none"/>
<path d="M862.5 133.5 L866 139.5 L871.5 142" stroke="#000" stroke-width="1.0" fill="none"/>
<g transform="rotate(45 870.8 132.8)"><rect x="866" y="128" width="9.6" height="9.6" stroke="#000" stroke-width="1.3" fill="#fff"/><rect x="867.8" y="129.8" width="6" height="6" stroke="#000" stroke-width="0.9" fill="none"/></g>
<ellipse cx="881.90" cy="120.30" rx="12.10" ry="10.60" transform="rotate(-10.0 881.90 120.30)" stroke="#000" stroke-width="1.70" fill="#fff"/>
<ellipse cx="881.90" cy="120.30" rx="10.00" ry="8.60" transform="rotate(-10.0 881.90 120.30)" stroke="#000" stroke-width="1.00" fill="#fff"/>
<line x1="876.00" y1="112.50" x2="888.00" y2="128.00" stroke="#000" stroke-width="1.70"/>
<line x1="873.50" y1="124.00" x2="890.50" y2="116.00" stroke="#000" stroke-width="1.70"/>
<line x1="880.50" y1="110.50" x2="883.00" y2="131.00" stroke="#000" stroke-width="2.00"/>
<line x1="872.50" y1="120.00" x2="891.50" y2="121.00" stroke="#000" stroke-width="1.30"/>
<path d="M877.00 118.00 L881.00 121.00 L886.00 118.00" stroke="#000" stroke-width="1.60" fill="none"/>
<circle cx="882" cy="120.5" r="2.2" fill="#000"/>
<g transform="rotate(-31 877 155)"><rect x="863" y="151.4" width="28" height="7.4" rx="3.2" stroke="#000" stroke-width="1.4" fill="#fff"/><rect x="866" y="153.2" width="22" height="4.2" fill="#000"/><line x1="867" y1="155.3" x2="876" y2="155.3" stroke="#fff" stroke-width="0.8"/></g>
<line x1="748.70" y1="183.20" x2="785.30" y2="190.30" stroke="#000" stroke-width="1.10"/>
<circle cx="798.10" cy="191.30" r="12.8" stroke="#000" stroke-width="1.2" fill="#fff"/>
<path d="M793.10 186.60 L794.70 184.90 L799.40 184.90 L799.40 198.70 L796.30 198.70 L796.30 187.60 L793.50 188.20 Z" fill="#000"/>
<line x1="734.50" y1="296.50" x2="783.40" y2="300.60" stroke="#000" stroke-width="1.10"/>
<circle cx="796.40" cy="300.90" r="12.8" stroke="#000" stroke-width="1.2" fill="#fff"/>
<path d="M791.40 296.20 L793.00 294.50 L797.70 294.50 L797.70 308.30 L794.60 308.30 L794.60 297.20 L791.80 297.80 Z" fill="#000"/>
<line x1="785.00" y1="447.50" x2="842.50" y2="437.50" stroke="#000" stroke-width="1.10"/>
<circle cx="855.00" cy="434.40" r="12.8" stroke="#000" stroke-width="1.2" fill="#fff"/>
<path d="M850.00 429.70 L851.60 428.00 L856.30 428.00 L856.30 441.80 L853.20 441.80 L853.20 430.70 L850.40 431.30 Z" fill="#000"/>
<line x1="632.80" y1="784.00" x2="678.80" y2="756.30" stroke="#000" stroke-width="1.10"/>
<circle cx="690.50" cy="748.40" r="12.8" stroke="#000" stroke-width="1.2" fill="#fff"/>
<text x="684.20" y="755.00" font-size="19.8" font-weight="bold" textLength="11.6" lengthAdjust="spacingAndGlyphs">2</text>
</svg>
</body></html>
